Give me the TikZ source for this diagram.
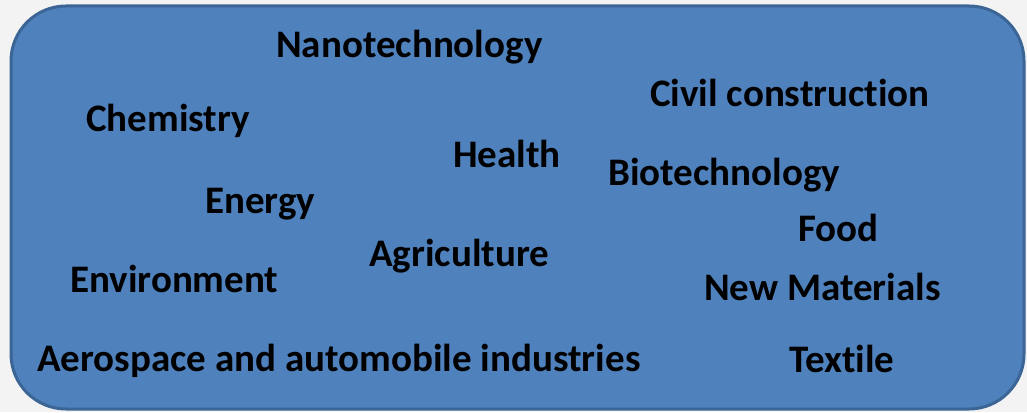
\documentclass[tikz,border=0pt]{standalone}
\usepackage{fontspec}
\setmainfont[Ligatures=NoCommon]{Carlito}
\definecolor{boxfill}{HTML}{4F81BD}
\definecolor{boxedge}{HTML}{3B6595}
\definecolor{pagebg}{HTML}{F3F3F3}
\begin{document}
\begin{tikzpicture}[x=1pt,y=-1pt,
  field/.style={anchor=base west, inner sep=0pt, font=\fontsize{39}{42}\selectfont\bfseries, text=black}]
  \useasboundingbox[fill=pagebg] (0,0) rectangle (1027,412);
  \draw[boxedge, line width=3pt, fill=boxfill, rounded corners=55pt]
    (11,6) rectangle (1024,409);
  \node[field] (nano)  at (276,58)  {Nanotechnology};
  \node[field] (chem)  at (86,131)  {Chemistry};
  \node[field] (civil) at (650,106) {Civil construction};
  \node[field] (health) at (453,167) {Health};
  \node[field] (bio)   at (608,185) {Biotechnology};
  \node[field] (energy) at (205,213) {Energy};
  \node[field] (food)  at (798,241) {Food};
  \node[field] (agri)  at (369,266) {Agriculture};
  \node[field] (env)   at (70,292)  {Environment};
  \node[field] (mat)   at (704,300) {New Materials};
  \node[field] (aero)  at (37,371)  {Aerospace and automobile industries};
  \node[field] (tex)   at (789,372) {Textile};
\end{tikzpicture}
\end{document}
